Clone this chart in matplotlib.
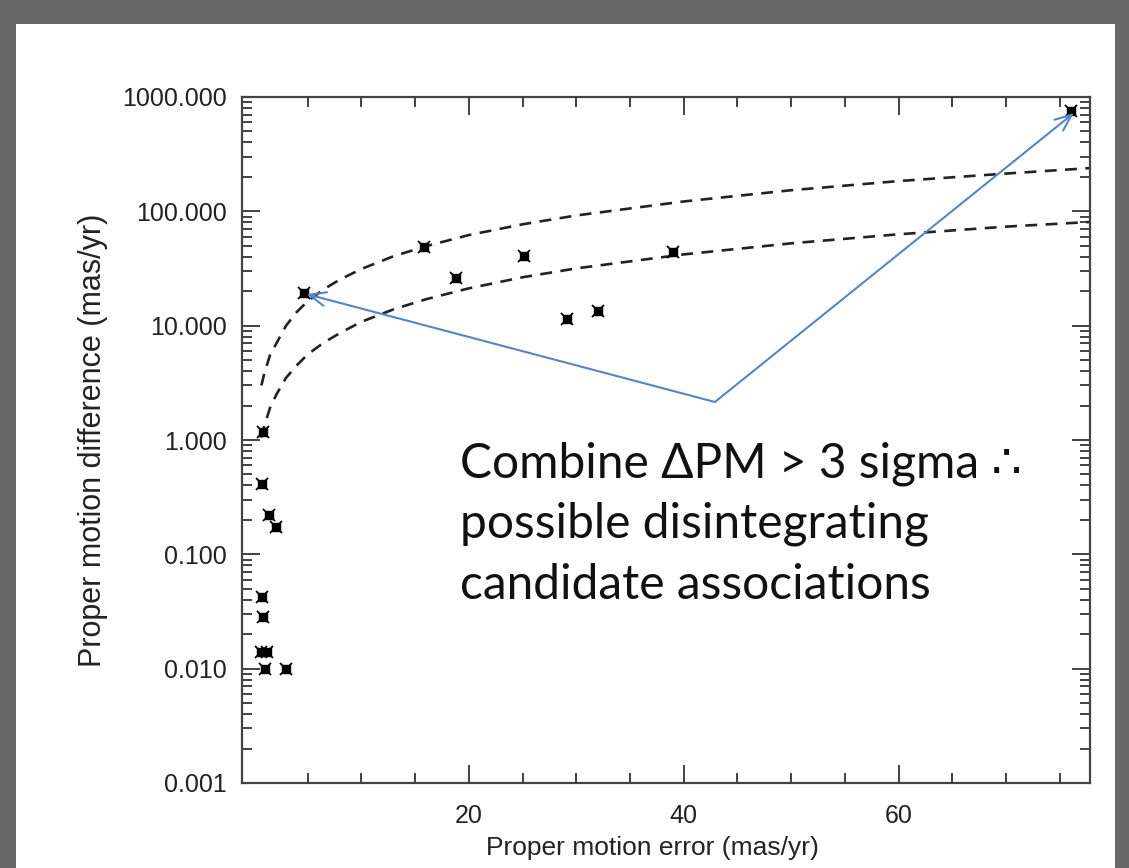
import numpy as np
import matplotlib.pyplot as plt
import matplotlib.patches as mpatches
from matplotlib.ticker import FixedLocator, LogLocator, FuncFormatter, NullFormatter

# measured points (proper motion error, proper motion difference)
pm_err = [0.85, 0.76, 1.4, 2.1, 0.8, 0.9, 0.67, 1.2, 1.05, 3.0,
          4.7, 15.8, 18.8, 25.1, 29.1, 32.0, 39.0, 76.0]
pm_diff = [1.17, 0.41, 0.22, 0.175, 0.042, 0.0285, 0.014, 0.014, 0.010, 0.010,
           19.4, 48.4, 26.3, 40.7, 11.4, 13.4, 43.8, 755.0]

# dashed limits
curve_x = [0.7, 1.0, 1.5, 2.1, 3.0, 4.0, 5.0, 6.5, 8.0, 10.0, 13.0, 16.0, 20.0,
           25.0, 30.0, 40.0, 50.0, 60.0, 70.0, 77.8]
upper_y = [3.0, 3.9, 5.5, 7.0, 10.0, 13.2, 16.3, 20.8, 25.3, 31.3, 40.5, 49.5, 62.0,
           77.0, 92.0, 122.0, 153.0, 184.0, 214.0, 239.0]
lower_y = [1.05, 1.35, 1.9, 2.5, 3.5, 4.5, 5.6, 7.1, 8.6, 10.8, 13.9, 17.0, 21.2,
           26.5, 31.7, 42.0, 52.5, 63.0, 73.5, 80.7]

xticks = [20, 40, 60]
yticks = [0.001, 0.01, 0.1, 1, 10, 100, 1000]
note_lines = ["Combine \u0394PM > 3 sigma \u2234", "possible disintegrating", "candidate associations"]

W, H = 1129, 868
fig = plt.figure(figsize=(W / 100, H / 100), dpi=100)
fig.patch.set_facecolor("#686868")
fig.patches.append(mpatches.Rectangle((16 / W, 0), (1115 - 16) / W, (H - 24) / H,
                                      transform=fig.transFigure, facecolor="white",
                                      edgecolor="none", zorder=-10))

ax = fig.add_axes([242 / W, (H - 783) / H, (1090 - 242) / W, (783 - 97) / H])
ax.set_facecolor("white")
ax.set_yscale("log")
ax.set_xlim(-1.1, 77.8)
ax.set_ylim(0.001, 1000)

ax.plot(curve_x, upper_y, ls=(0, (4.5, 3.2)), color="#222222", lw=1.9)
ax.plot(curve_x, lower_y, ls=(0, (4.5, 3.2)), color="#222222", lw=1.9)

ax.plot(pm_err, pm_diff, ls="none", marker="s", ms=6, color="black")
ax.plot(pm_err, pm_diff, ls="none", marker="x", ms=9, mew=1.3, color="black")

# blue arrows from the text
blue = "#5585c8"
base = (42.9, 2.15)
for tip in [(4.9, 18.9), (76.3, 725)]:
    ax.annotate("", xy=tip, xytext=base,
                arrowprops=dict(arrowstyle="->,head_length=1.2,head_width=0.5",
                                color=blue, lw=1.5, shrinkA=0, shrinkB=0))

for i, line in enumerate(note_lines):
    fig.text(460 / W, 1 - (477 + 61 * i) / H, line, fontsize=34.5,
             family=["Lato", "DejaVu Sans"], va="baseline", ha="left", color="#111111")

# IDL style ticks all round
ax.xaxis.set_major_locator(FixedLocator(xticks))
ax.xaxis.set_minor_locator(FixedLocator(np.arange(5, 78, 5)))
ax.yaxis.set_major_locator(FixedLocator(yticks))
ax.yaxis.set_minor_locator(LogLocator(base=10, subs=np.arange(2, 10)))
ax.yaxis.set_major_formatter(FuncFormatter(lambda v, p: f"{v:.3f}"))
ax.yaxis.set_minor_formatter(NullFormatter())
ax.tick_params(which="both", direction="in", top=True, right=True, color="#333333", width=1.3)
ax.tick_params(which="major", length=13, labelsize=18, pad=11, labelcolor="#222222")
ax.tick_params(which="minor", length=7)
ax.tick_params(axis="x", which="major", pad=15)
for lab in ax.get_xticklabels() + ax.get_yticklabels():
    lab.set_family("Liberation Sans")
for s in ax.spines.values():
    s.set_color("#444444")
    s.set_linewidth(1.6)

ax.set_xlabel("Proper motion error (mas/yr)", fontsize=19, family="Liberation Sans", color="#222222")
ax.xaxis.set_label_coords((652 - 242) / (1090 - 242), -(848 - 783) / (783 - 97))
ax.set_ylabel("Proper motion difference (mas/yr)", fontsize=22, family="Liberation Sans", color="#222222")
ax.yaxis.set_label_coords(-(242 - 93) / (1090 - 242), (783 - 440) / (783 - 97))
ax.yaxis.label.set_va("center")
ax.xaxis.label.set_va("center")

fig.savefig("out.png", dpi=100, facecolor=fig.get_facecolor())
